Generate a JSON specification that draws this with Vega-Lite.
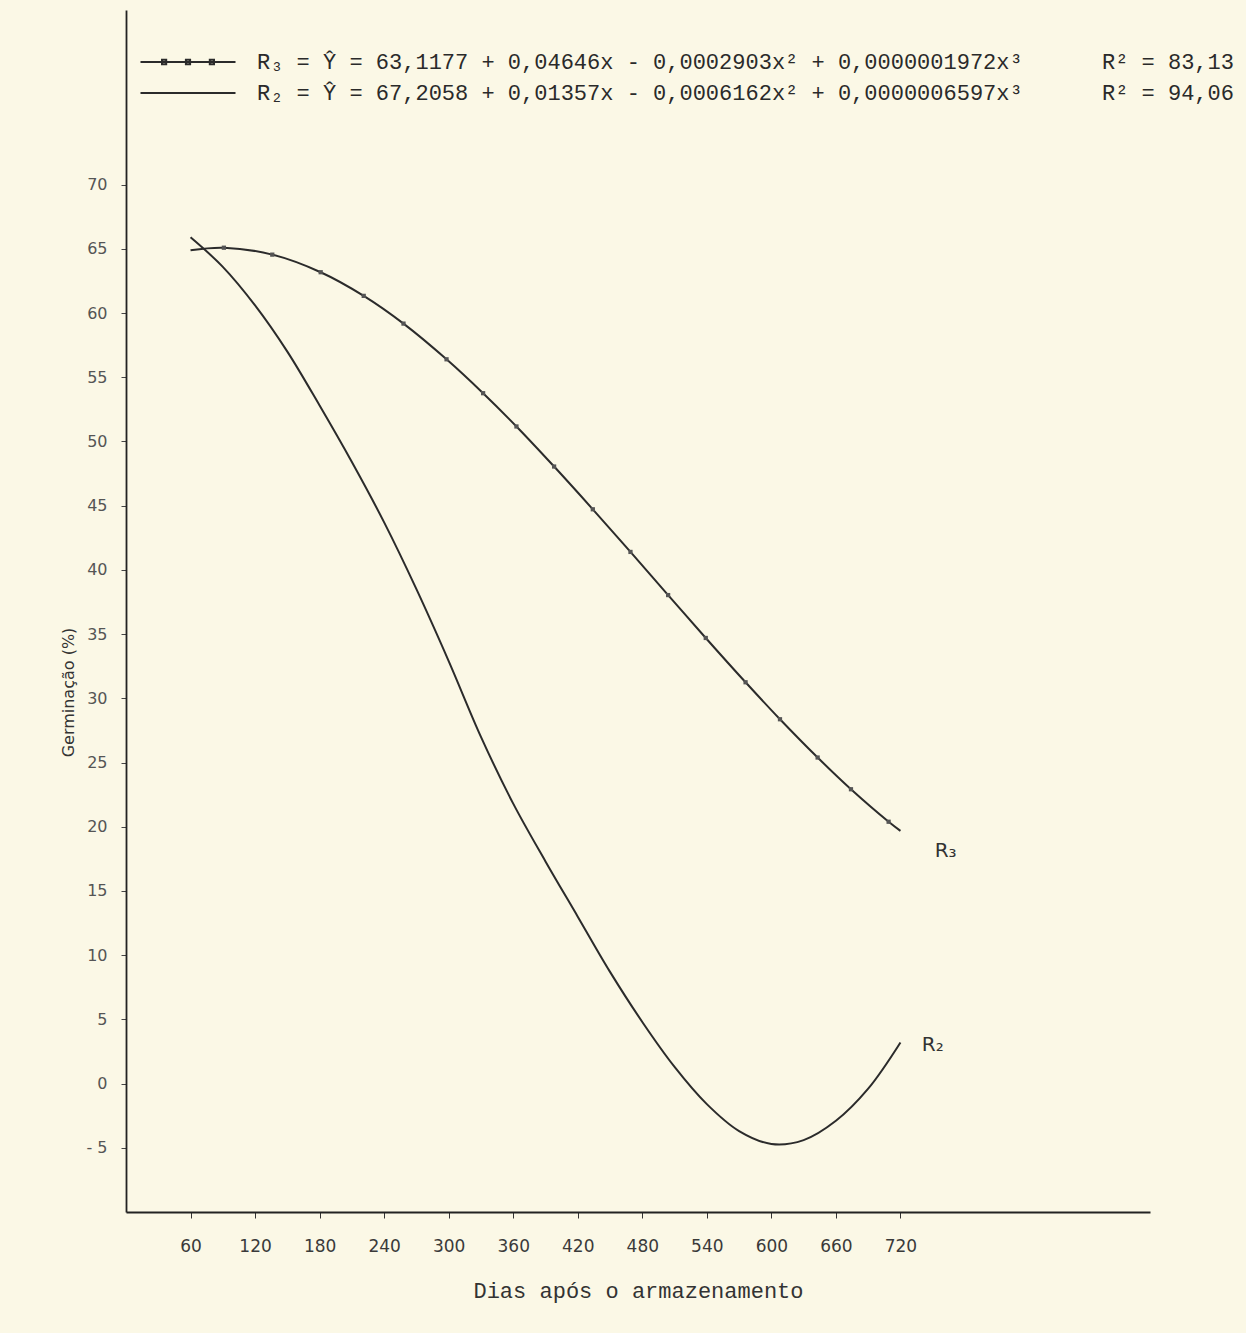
{
  "$schema": "https://vega.github.io/schema/vega-lite/v6.json",
  "width": 1024,
  "height": 1202,
  "autosize": {"type": "none"},
  "padding": {"left": 126, "top": 10, "right": 96, "bottom": 121},
  "background": "#fbf8e6",
  "config": {"view": {"stroke": null}, "font": "DejaVu Sans"},
  "datasets": {
    "curves": [
      {"series": "R3", "day": 60, "germ": 64.9, "mark": false},
      {"series": "R3", "day": 91, "germ": 65.09, "mark": true},
      {"series": "R3", "day": 136, "germ": 64.55, "mark": true},
      {"series": "R3", "day": 181, "germ": 63.18, "mark": true},
      {"series": "R3", "day": 221, "germ": 61.34, "mark": true},
      {"series": "R3", "day": 258, "germ": 59.18, "mark": true},
      {"series": "R3", "day": 298, "germ": 56.4, "mark": true},
      {"series": "R3", "day": 332, "germ": 53.76, "mark": true},
      {"series": "R3", "day": 363, "germ": 51.17, "mark": true},
      {"series": "R3", "day": 398, "germ": 48.05, "mark": true},
      {"series": "R3", "day": 434, "germ": 44.72, "mark": true},
      {"series": "R3", "day": 469, "germ": 41.4, "mark": true},
      {"series": "R3", "day": 504, "germ": 38.04, "mark": true},
      {"series": "R3", "day": 539, "germ": 34.7, "mark": true},
      {"series": "R3", "day": 576, "germ": 31.25, "mark": true},
      {"series": "R3", "day": 608, "germ": 28.37, "mark": true},
      {"series": "R3", "day": 643, "germ": 25.39, "mark": true},
      {"series": "R3", "day": 674, "germ": 22.92, "mark": true},
      {"series": "R3", "day": 709, "germ": 20.39, "mark": true},
      {"series": "R3", "day": 720, "germ": 19.68, "mark": false},
      {"series": "R2", "day": 60, "germ": 65.9, "mark": false},
      {"series": "R2", "day": 90, "germ": 63.6, "mark": false},
      {"series": "R2", "day": 120, "germ": 60.6, "mark": false},
      {"series": "R2", "day": 150, "germ": 57.0, "mark": false},
      {"series": "R2", "day": 180, "germ": 52.8, "mark": false},
      {"series": "R2", "day": 210, "germ": 48.4, "mark": false},
      {"series": "R2", "day": 240, "germ": 43.7, "mark": false},
      {"series": "R2", "day": 270, "germ": 38.5, "mark": false},
      {"series": "R2", "day": 300, "germ": 32.9, "mark": false},
      {"series": "R2", "day": 330, "germ": 27.0, "mark": false},
      {"series": "R2", "day": 360, "germ": 21.8, "mark": false},
      {"series": "R2", "day": 390, "germ": 17.3, "mark": false},
      {"series": "R2", "day": 420, "germ": 13.0, "mark": false},
      {"series": "R2", "day": 450, "germ": 8.7, "mark": false},
      {"series": "R2", "day": 480, "germ": 4.8, "mark": false},
      {"series": "R2", "day": 510, "germ": 1.3, "mark": false},
      {"series": "R2", "day": 540, "germ": -1.6, "mark": false},
      {"series": "R2", "day": 570, "germ": -3.7, "mark": false},
      {"series": "R2", "day": 600, "germ": -4.7, "mark": false},
      {"series": "R2", "day": 630, "germ": -4.4, "mark": false},
      {"series": "R2", "day": 660, "germ": -2.9, "mark": false},
      {"series": "R2", "day": 690, "germ": -0.4, "mark": false},
      {"series": "R2", "day": 720, "germ": 3.2, "mark": false}
    ],
    "tags": [
      {"day": 762, "germ": 18.1, "label": "R₃"},
      {"day": 750, "germ": 3.0, "label": "R₂"}
    ]
  },
  "layer": [
    {
      "data": {"name": "curves"},
      "mark": {"type": "line", "interpolate": "catmull-rom", "strokeWidth": 2},
      "encoding": {
        "x": {
          "field": "day",
          "type": "quantitative",
          "scale": {"domain": [0, 952], "nice": false, "zero": false},
          "axis": {
            "values": [60, 120, 180, 240, 300, 360, 420, 480, 540, 600, 660, 720],
            "grid": false,
            "tickSize": 6,
            "tickColor": "#333333",
            "domainColor": "#222222",
            "domainWidth": 1.8,
            "labelFont": "DejaVu Sans",
            "labelFontSize": 17,
            "labelColor": "#3a3a3a",
            "labelPadding": 20,
            "title": "Dias após o armazenamento",
            "titleFont": "Liberation Mono",
            "titleFontSize": 22,
            "titleFontWeight": "normal",
            "titleColor": "#333333",
            "titlePadding": 26
          }
        },
        "y": {
          "field": "germ",
          "type": "quantitative",
          "scale": {"domain": [-10, 83.6], "nice": false, "zero": false},
          "axis": {
            "values": [-5, 0, 5, 10, 15, 20, 25, 30, 35, 40, 45, 50, 55, 60, 65, 70],
            "grid": false,
            "tickSize": 5,
            "tickColor": "#444444",
            "domainColor": "#222222",
            "domainWidth": 1.8,
            "labelFont": "DejaVu Sans",
            "labelFontSize": 16,
            "labelColor": "#555555",
            "labelPadding": 14,
            "labelExpr": "datum.value < 0 ? '- ' + abs(datum.value) : datum.label",
            "title": "Germinação (%)",
            "titleFont": "DejaVu Sans",
            "titleFontSize": 16,
            "titleFontWeight": "normal",
            "titleColor": "#333333",
            "titleX": -50,
            "titleY": 682
          }
        },
        "color": {
          "field": "series",
          "type": "nominal",
          "scale": {"domain": ["R3", "R2"], "range": ["#2b2b2b", "#2b2b2b"]},
          "legend": {
            "orient": "none",
            "legendX": 51,
            "legendY": 41,
            "title": null,
            "symbolSize": 400,
            "symbolStrokeWidth": 2,
            "labelFont": "Liberation Mono",
            "labelFontSize": 22,
            "labelColor": "#2a2a2a",
            "labelLimit": 1300,
            "labelOffset": 58,
            "rowPadding": 9,
            "labelExpr": "datum.label == 'R3' ? 'R₃ = Ŷ = 63,1177 + 0,04646x - 0,0002903x² + 0,0000001972x³\u00a0\u00a0\u00a0\u00a0\u00a0\u00a0R² = 83,13' : 'R₂ = Ŷ = 67,2058 + 0,01357x - 0,0006162x² + 0,0000006597x³\u00a0\u00a0\u00a0\u00a0\u00a0\u00a0R² = 94,06'",
            "encode": {
              "symbols": {
                "update": {
                  "shape": {"signal": "datum.value == 'R3' ? 'M-4.75,0H4.75M-2.6,-0.22H-2.18V0.22H-2.6ZM-0.21,-0.22H0.21V0.22H-0.21ZM2.18,-0.22H2.6V0.22H2.18Z' : 'M-4.75,0H4.75'"}
                }
              }
            }
          }
        }
      }
    },
    {
      "data": {"name": "curves"},
      "transform": [{"filter": "datum.mark"}],
      "mark": {"type": "point", "shape": "square", "filled": true, "size": 18, "color": "#555555", "opacity": 1},
      "encoding": {
        "x": {"field": "day", "type": "quantitative"},
        "y": {"field": "germ", "type": "quantitative"}
      }
    },
    {
      "data": {"name": "tags"},
      "mark": {"type": "text", "font": "DejaVu Sans", "fontSize": 20, "color": "#333333", "align": "center", "baseline": "middle"},
      "encoding": {
        "x": {"field": "day", "type": "quantitative"},
        "y": {"field": "germ", "type": "quantitative"},
        "text": {"field": "label"}
      }
    }
  ]
}
